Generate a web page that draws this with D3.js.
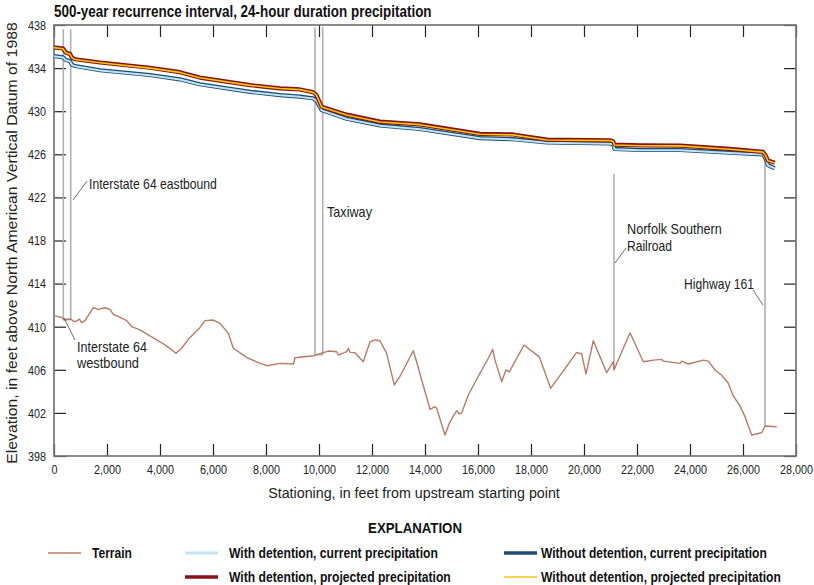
<!DOCTYPE html>
<html>
<head>
<meta charset="utf-8">
<script src="https://cdn.jsdelivr.net/npm/d3@7"></script>
<style>
html,body{margin:0;padding:0;background:#fff;}
svg{display:block;}
</style>
</head>
<body>
<svg id="chart" width="814" height="585"></svg>
<script>
// ---------- DATA ----------
const xTicks = [0,2000,4000,6000,8000,10000,12000,14000,16000,18000,20000,22000,24000,26000,28000];
const yTicks = [398,402,406,410,414,418,422,426,430,434,438];

// Terrain profile (station ft, elevation ft)
const terrainX = [38,290,377,640,755,880,955,1045,1170,1483,1672,1925,2113,2238,2490,2743,2932,3245,4000,4252,4604,4817,5068,5484,5698,6013,6264,6578,6767,7270,7710,8025,8528,9031,9094,9786,10163,10352,10667,10729,11045,11107,11170,11358,11672,11925,12113,12302,12553,12841,13057,13559,13685,13874,14038,14189,14377,14440,14755,14918,15068,15196,15294,15383,15634,16011,16389,16554,16642,16893,17057,17182,17736,18313,18742,19723,19912,20075,20351,20856,21106,21132,21483,21736,22238,22615,22931,22993,23623,23686,23936,24502,24691,24943,25196,25445,25634,25887,26075,26328,26706,26830,27272];
const terrainY = [411.0,410.87,410.62,410.69,410.47,410.56,410.72,410.37,410.56,411.76,411.61,411.76,411.61,411.15,410.87,410.56,410.0,409.7,408.6,408.2,407.53,408.0,408.83,409.85,410.56,410.62,410.3,409.4,408.0,407.16,406.66,406.38,406.6,406.54,407.12,407.3,407.59,407.74,407.68,407.37,407.68,408.0,407.62,407.59,406.75,408.6,408.77,408.7,407.53,404.6,405.4,407.77,406.75,405.05,403.66,402.33,402.58,402.43,399.95,401.03,401.7,402.2,401.9,402.0,403.66,405.4,407.07,407.9,406.9,404.9,406.0,405.8,408.3,407.2,404.28,407.62,407.47,405.6,408.7,405.73,406.75,405.98,408.0,409.44,406.75,406.9,406.97,406.8,406.6,406.8,406.54,406.9,406.8,405.98,405.5,404.75,403.57,402.64,401.65,399.95,400.16,400.78,400.72];

// Water-surface profiles
const wsX = [0,340,450,600,680,800,1740,3620,4750,5500,7400,8530,9280,9770,9900,10100,11045,12300,13810,16075,17320,18600,20980,21100,21150,22110,23620,25510,26760,26850,26940,27200];
const withDetProjected    = [435.92,435.82,435.42,435.32,434.97,434.82,434.52,434.03,433.62,433.12,432.42,432.12,432.02,431.77,431.52,430.42,429.68,429.03,428.78,427.9,427.84,427.36,427.3,427.22,426.9,426.83,426.8,426.5,426.22,425.92,425.42,425.22];
const withoutDetProjected = [435.9,435.8,435.4,435.3,434.95,434.8,434.5,434.0,433.6,433.1,432.4,432.1,432.0,431.75,431.5,430.4,429.65,429.0,428.75,427.86,427.8,427.33,427.27,427.2,426.87,426.8,426.78,426.47,426.2,425.9,425.4,425.2];
const withDetCurrent      = [435.1,434.98,434.73,434.63,434.28,434.18,433.78,433.34,432.94,432.48,431.78,431.48,431.33,431.18,430.98,430.08,429.28,428.66,428.33,427.48,427.38,427.08,426.98,426.93,426.48,426.38,426.38,426.13,425.98,425.58,424.98,424.68];
const withoutDetCurrent   = [435.12,435.0,434.75,434.65,434.3,434.2,433.8,433.36,432.96,432.5,431.8,431.5,431.35,431.2,431.0,430.1,429.3,428.68,428.35,427.5,427.4,427.1,427.0,426.95,426.5,426.4,426.4,426.15,426.0,425.6,425.0,424.7];

// Structures (vertical lines): station, top elevation, bottom elevation
const structX      = [351,630,9849,10140,21130,26830];
const structTop    = [437.6,437.6,437.8,437.8,424.2,425.8];
const structBottom = [410.8,410.7,407.4,407.4,406.0,400.8];
const structPairs  = [[0,1],[2,3]];

// Annotation labels
const labelText = [["Interstate 64 eastbound"],["Interstate 64","westbound"],["Taxiway"],["Norfolk Southern","Railroad"],["Highway 161"]];

const legendLabels = ["Terrain","With detention, current precipitation","Without detention, current precipitation","With detention, projected precipitation","Without detention, projected precipitation"];

// ---------- DRAW ----------
const FONT = "'Liberation Sans',Arial,sans-serif";
const C = {terrain:"#b77a66", wdc:"#bfe4f5", wodc:"#1d4b72", wdp:"#8a1111", wodp:"#f2c80f", struct:"#b0b0b0", frame:"#767676"};

const svg = d3.select("#chart");
const L=54, R=796, T=25, B=456;
const x = d3.scaleLinear().domain([0,28000]).range([L,R]);
const y = d3.scaleLinear().domain([398,438]).range([B,T]);

// text drawn with a horizontal squeeze (condensed-face look)
function txt(parent, x0, y0, s, o){
  o = o||{};
  const t = parent.append("text").attr("x",0).attr("y",0)
    .attr("font-family",FONT).attr("font-size",o.size||13)
    .attr("font-weight",o.bold?"bold":"normal").attr("fill",o.fill||"#222")
    .attr("text-anchor",o.anchor||"start").text(s);
  const w = t.node().getComputedTextLength();
  const f = o.target ? o.target/w : (o.factor||0.82);
  t.attr("transform",`${o.transform||""} translate(${x0},${y0}) scale(${f},1)`);
  return t;
}

// Title
txt(svg, L, 17, "500-year recurrence interval, 24-hour duration precipitation", {size:16.5, bold:true, fill:"#111", target:378});

// Axes
function styleAxis(g){
  g.select(".domain").remove();
  g.selectAll(".tick line").attr("stroke","#222").attr("stroke-width",1.2);
  g.selectAll(".tick text").attr("font-family",FONT).attr("font-size",13.5).attr("fill","#222")
    .each(function(){
      const s = d3.select(this);
      const tx = +s.attr("x") || 0;
      s.attr("x",0).attr("transform",`translate(${tx},0) scale(0.8,1)`);
    });
}
svg.append("g").attr("transform",`translate(0,${B})`)
  .call(d3.axisBottom(x).tickValues(xTicks).tickSize(-12).tickSizeOuter(0).tickPadding(8).tickFormat(d3.format(",")))
  .call(styleAxis);
svg.append("g").attr("transform",`translate(0,${T})`)
  .call(d3.axisTop(x).tickValues(xTicks).tickSize(-12).tickSizeOuter(0).tickFormat(""))
  .call(styleAxis);
svg.append("g").attr("transform",`translate(${L},0)`)
  .call(d3.axisLeft(y).tickValues(yTicks).tickSize(-12).tickSizeOuter(0).tickPadding(8))
  .call(styleAxis);
svg.append("g").attr("transform",`translate(${R},0)`)
  .call(d3.axisRight(y).tickValues(yTicks).tickSize(-12).tickSizeOuter(0).tickFormat(""))
  .call(styleAxis);

// Frame
svg.append("rect").attr("x",L).attr("y",T).attr("width",R-L).attr("height",B-T)
  .attr("fill","none").attr("stroke",C.frame).attr("stroke-width",1.7);

// Structures
const sg = svg.append("g");
structX.forEach((sx,i)=>{
  sg.append("line").attr("x1",x(sx)).attr("x2",x(sx)).attr("y1",y(structTop[i])).attr("y2",y(structBottom[i]))
    .attr("stroke",C.struct).attr("stroke-width",1.6);
});
structPairs.forEach(([a,b])=>{
  const yb = y(Math.min(structBottom[a],structBottom[b]));
  sg.append("line").attr("x1",x(structX[a])).attr("x2",x(structX[b])).attr("y1",yb).attr("y2",yb)
    .attr("stroke",C.struct).attr("stroke-width",1.6);
});

// Terrain
const line = d3.line().x(d=>x(d[0])).y(d=>y(d[1]));
svg.append("path").attr("d",line(d3.zip(terrainX,terrainY))).attr("fill","none")
  .attr("stroke",C.terrain).attr("stroke-width",1.4).attr("stroke-linejoin","round");

// Water surfaces
const ws = [
  [withoutDetCurrent, C.wodc, 4.2],
  [withDetCurrent, C.wdc, 2.0],
  [withDetProjected, C.wdp, 4.2],
  [withoutDetProjected, C.wodp, 1.6]
];
ws.forEach(([vals,col,w])=>{
  svg.append("path").attr("d",line(d3.zip(wsX,vals))).attr("fill","none")
    .attr("stroke",col).attr("stroke-width",w).attr("stroke-linejoin","round");
});

// Annotations
function leader(x1,y1,x2,y2){
  svg.append("line").attr("x1",x1).attr("y1",y1).attr("x2",x2).attr("y2",y2).attr("stroke","#444").attr("stroke-width",0.8);
}
txt(svg, 89, 189, labelText[0][0], {size:14, target:128});
leader(87,181,73,200);
txt(svg, 77, 352, labelText[1][0], {size:14, target:70});
txt(svg, 77, 368, labelText[1][1], {size:14, target:62});
leader(64,318,75,340);
txt(svg, 327, 217, labelText[2][0], {size:14, target:45});
txt(svg, 627, 234, labelText[3][0], {size:14, target:95});
txt(svg, 627, 251, labelText[3][1], {size:14, target:45});
leader(615,263,626,248);
txt(svg, 754, 289, labelText[4][0], {size:14, anchor:"end", target:70});
leader(753,290,763,305);

// Axis titles
txt(svg, 414, 498, "Stationing, in feet from upstream starting point", {size:15, anchor:"middle", target:292});
txt(svg, 0, 0, "Elevation, in feet above North American Vertical Datum of 1988",
  {size:15, anchor:"middle", target:442, transform:`translate(17,243) rotate(-90)`});

// Legend
txt(svg, 415, 533, "EXPLANATION", {size:15, bold:true, fill:"#111", anchor:"middle", target:94});
const legItems = [
  {lx:48, ly:553, col:C.terrain, w:1.4, tx:92, tw:40},
  {lx:185, ly:553, col:C.wdc, w:3, tx:229, tw:209},
  {lx:504, ly:553, col:C.wodc, w:3.5, tx:541, tw:226},
  {lx:185, ly:577, col:C.wdp, w:3.5, tx:229, tw:222},
  {lx:504, ly:577, col:C.wodp, w:1.5, tx:541, tw:240}
];
legItems.forEach((d,i)=>{
  svg.append("line").attr("x1",d.lx).attr("x2",d.lx+33).attr("y1",d.ly).attr("y2",d.ly).attr("stroke",d.col).attr("stroke-width",d.w);
  txt(svg, d.tx, d.ly+5, legendLabels[i], {size:14, bold:true, fill:"#111", target:d.tw});
});
</script>
</body>
</html>
